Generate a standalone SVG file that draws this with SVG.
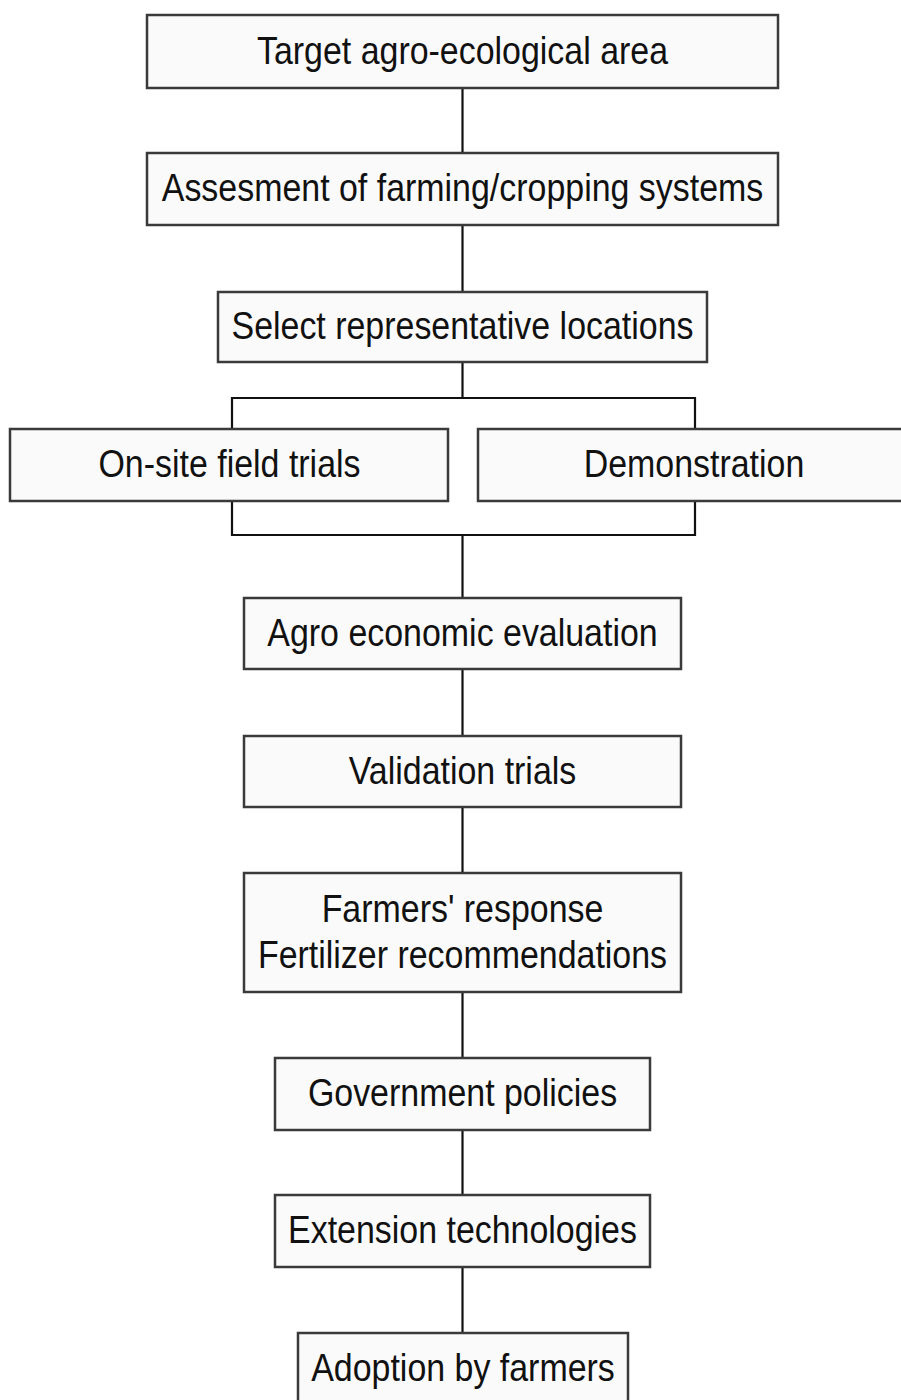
<svg xmlns="http://www.w3.org/2000/svg" width="901" height="1400" viewBox="0 0 901 1400">
  <style>
    .box { fill: #fafafa; stroke: #3a3a3a; stroke-width: 2.5; }
    .link { fill: none; stroke: #111; stroke-width: 2.2; }
    .lbl { font-family: "Liberation Sans", Arial, sans-serif; font-size: 39px; fill: #111; text-anchor: middle; }
  </style>
  <rect width="901" height="1400" fill="#ffffff"/>

  <!-- connectors -->
  <g id="connectors">
    <line class="link" x1="462.5" y1="88" x2="462.5" y2="153"/>
    <line class="link" x1="462.5" y1="225" x2="462.5" y2="292"/>
    <line class="link" x1="462.5" y1="362" x2="462.5" y2="398"/>
    <polyline class="link" points="232,429 232,398 695,398 695,429"/>
    <polyline class="link" points="232,501 232,535 695,535 695,501"/>
    <line class="link" x1="462.5" y1="535" x2="462.5" y2="598"/>
    <line class="link" x1="462.5" y1="669" x2="462.5" y2="736"/>
    <line class="link" x1="462.5" y1="807" x2="462.5" y2="873"/>
    <line class="link" x1="462.5" y1="992" x2="462.5" y2="1058"/>
    <line class="link" x1="462.5" y1="1130" x2="462.5" y2="1195"/>
    <line class="link" x1="462.5" y1="1267" x2="462.5" y2="1333"/>
  </g>

  <g id="target-area">
    <rect class="box" x="147" y="15" width="631" height="73"/>
    <text class="lbl" transform="translate(462.5,63.5) scale(0.87,1)">Target agro-ecological area</text>
  </g>

  <g id="assessment">
    <rect class="box" x="147" y="153" width="631" height="72"/>
    <text class="lbl" transform="translate(462.5,201) scale(0.87,1)">Assesment of farming/cropping systems</text>
  </g>

  <g id="select-locations">
    <rect class="box" x="218" y="292" width="489" height="70"/>
    <text class="lbl" transform="translate(462.5,339) scale(0.87,1)">Select representative locations</text>
  </g>

  <g id="field-trials">
    <rect class="box" x="10" y="429" width="438" height="72"/>
    <text class="lbl" transform="translate(229.5,477) scale(0.87,1)">On-site field trials</text>
  </g>

  <g id="demonstration">
    <rect class="box" x="478" y="429" width="430" height="72"/>
    <text class="lbl" transform="translate(694,477) scale(0.87,1)">Demonstration</text>
  </g>

  <g id="agro-economic">
    <rect class="box" x="244" y="598" width="437" height="71"/>
    <text class="lbl" transform="translate(462.5,645.5) scale(0.87,1)">Agro economic evaluation</text>
  </g>

  <g id="validation">
    <rect class="box" x="244" y="736" width="437" height="71"/>
    <text class="lbl" transform="translate(462.5,783.5) scale(0.87,1)">Validation trials</text>
  </g>

  <g id="farmers-response">
    <rect class="box" x="244" y="873" width="437" height="119"/>
    <text class="lbl" transform="translate(462.5,922) scale(0.87,1)">Farmers' response</text>
    <text class="lbl" transform="translate(462.5,968) scale(0.87,1)">Fertilizer recommendations</text>
  </g>

  <g id="government">
    <rect class="box" x="275" y="1058" width="375" height="72"/>
    <text class="lbl" transform="translate(462.5,1106) scale(0.87,1)">Government policies</text>
  </g>

  <g id="extension">
    <rect class="box" x="275" y="1195" width="375" height="72"/>
    <text class="lbl" transform="translate(462.5,1243) scale(0.87,1)">Extension technologies</text>
  </g>

  <g id="adoption">
    <rect class="box" x="298" y="1333" width="330" height="75"/>
    <text class="lbl" transform="translate(463,1381) scale(0.87,1)">Adoption by farmers</text>
  </g>
</svg>
